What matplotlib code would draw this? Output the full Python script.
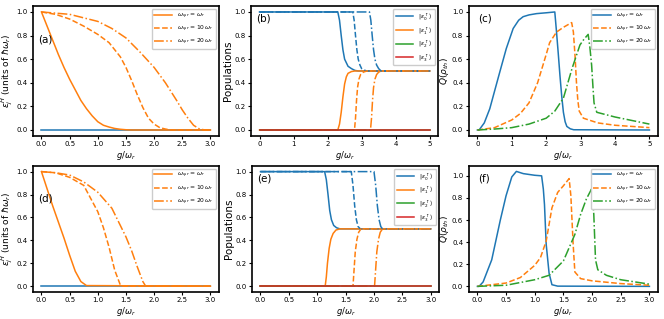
import matplotlib.pyplot as plt

plt.rcParams['font.size'] = 6
plt.rcParams['axes.linewidth'] = 1.2
plt.rcParams['mathtext.fontset'] = 'dejavusans'

# ---------- panel (a): energies, top row ----------
a_x1 = [0, 0.1, 0.2, 0.3, 0.4, 0.5, 0.6, 0.7, 0.8, 0.9, 1.0, 1.1, 1.2, 1.3, 1.4, 1.5, 1.6, 3.0]
a_y1 = [1.0, 0.88, 0.76, 0.64, 0.53, 0.43, 0.34, 0.25, 0.18, 0.12, 0.07, 0.04, 0.025, 0.013, 0.006, 0.002, 0, 0]
a_x10 = [0, 0.25, 0.5, 0.75, 1.0, 1.2, 1.4, 1.5, 1.6, 1.7, 1.8, 1.9, 2.0, 2.1, 2.2, 2.3, 3.0]
a_y10 = [1, 0.98, 0.94, 0.88, 0.81, 0.74, 0.62, 0.53, 0.42, 0.30, 0.19, 0.10, 0.05, 0.02, 0.008, 0.0, 0]
a_x20 = [0, 0.5, 1.0, 1.25, 1.5, 1.75, 2.0, 2.2, 2.4, 2.5, 2.6, 2.7, 2.8, 2.9, 3.0]
a_y20 = [1, 0.98, 0.92, 0.86, 0.78, 0.66, 0.53, 0.40, 0.25, 0.17, 0.10, 0.04, 0.01, 0.0, 0.0]

# ---------- panel (d): energies, bottom row ----------
d_x1 = [0, 0.1, 0.2, 0.3, 0.4, 0.5, 0.6, 0.7, 0.8, 3.0]
d_y1 = [1, 0.85, 0.70, 0.56, 0.42, 0.27, 0.13, 0.04, 0.005, 0]
d_x10 = [0, 0.25, 0.5, 0.75, 1.0, 1.1, 1.2, 1.3, 1.4, 1.45, 3.0]
d_y10 = [1, 0.99, 0.95, 0.88, 0.65, 0.51, 0.34, 0.14, 0.01, 0, 0]
d_x20 = [0, 0.25, 0.5, 0.75, 1.0, 1.25, 1.5, 1.6, 1.7, 1.8, 1.85, 3.0]
d_y20 = [1, 0.99, 0.97, 0.91, 0.82, 0.68, 0.43, 0.31, 0.17, 0.04, 0, 0]

# ---------- panel (b): populations, top row ----------
b_x_up_1 = [0, 2.3, 2.35, 2.4, 2.45, 2.5, 2.6, 2.7, 2.8, 2.9, 5]
b_y_up_1 = [1, 1, 0.93, 0.80, 0.68, 0.60, 0.54, 0.52, 0.505, 0.5, 0.5]
b_x_lo_1 = [0, 2.3, 2.35, 2.4, 2.45, 2.5, 2.55, 2.6, 2.7, 2.8, 5]
b_y_lo_1 = [0, 0, 0.05, 0.15, 0.28, 0.39, 0.45, 0.48, 0.495, 0.5, 0.5]
b_x_up_10 = [0, 2.74, 2.78, 2.82, 2.86, 2.9, 2.95, 3.0, 3.1, 3.15, 5]
b_y_up_10 = [1, 1, 0.93, 0.80, 0.68, 0.60, 0.55, 0.52, 0.505, 0.5, 0.5]
b_x_lo_10 = [0, 2.79, 2.82, 2.85, 2.88, 2.92, 2.97, 3.05, 3.15, 5]
b_y_lo_10 = [0, 0, 0.10, 0.25, 0.36, 0.43, 0.47, 0.49, 0.5, 0.5]
b_x_up_20 = [0, 3.23, 3.27, 3.31, 3.35, 3.39, 3.44, 3.5, 3.57, 5]
b_y_up_20 = [1, 1, 0.93, 0.80, 0.68, 0.60, 0.55, 0.52, 0.5, 0.5]
b_x_lo_20 = [0, 3.26, 3.29, 3.32, 3.35, 3.39, 3.44, 3.5, 3.57, 5]
b_y_lo_20 = [0, 0, 0.10, 0.25, 0.36, 0.43, 0.47, 0.49, 0.5, 0.5]

# ---------- panel (e): populations, bottom row ----------
e_x_up_1 = [0, 1.13, 1.16, 1.19, 1.22, 1.25, 1.29, 1.34, 1.4, 3.0]
e_y_up_1 = [1, 1, 0.93, 0.80, 0.66, 0.58, 0.53, 0.51, 0.5, 0.5]
e_x_lo_1 = [0, 1.14, 1.16, 1.18, 1.21, 1.24, 1.28, 1.33, 1.4, 3.0]
e_y_lo_1 = [0, 0, 0.08, 0.20, 0.33, 0.41, 0.46, 0.49, 0.5, 0.5]
e_x_up_10 = [0, 1.6, 1.63, 1.66, 1.69, 1.72, 1.76, 3.0]
e_y_up_10 = [1, 1, 0.88, 0.70, 0.58, 0.52, 0.5, 0.5]
e_x_lo_10 = [0, 1.63, 1.65, 1.67, 1.7, 1.73, 1.77, 3.0]
e_y_lo_10 = [0, 0, 0.15, 0.30, 0.41, 0.47, 0.5, 0.5]
e_x_up_20 = [0, 2.0, 2.03, 2.06, 2.09, 2.12, 2.15, 3.0]
e_y_up_20 = [1, 1, 0.88, 0.70, 0.58, 0.52, 0.5, 0.5]
e_x_lo_20 = [0, 2.01, 2.03, 2.05, 2.08, 2.11, 2.15, 3.0]
e_y_lo_20 = [0, 0, 0.15, 0.30, 0.41, 0.47, 0.5, 0.5]

# ---------- panel (c): Q, top row ----------
c_x1 = [0, 0.05, 0.2, 0.36, 0.5, 0.65, 0.84, 1.04, 1.2, 1.33, 1.5, 1.72, 2.0, 2.25, 2.3, 2.35, 2.4, 2.45, 2.5, 2.55, 2.6, 2.7, 2.8, 5]
c_y1 = [0, 0, 0.06, 0.18, 0.33, 0.49, 0.69, 0.86, 0.93, 0.96, 0.975, 0.986, 0.993, 1.0, 0.83, 0.65, 0.46, 0.29, 0.15, 0.07, 0.03, 0.01, 0.002, 0]
c_x10 = [0, 0.5, 1.0, 1.25, 1.5, 1.75, 2.0, 2.1, 2.3, 2.5, 2.65, 2.74, 2.79, 2.84, 2.88, 2.92, 2.96, 3.08, 3.5, 4.0, 4.5, 5.0]
c_y10 = [0, 0.02, 0.085, 0.14, 0.23, 0.40, 0.64, 0.74, 0.83, 0.87, 0.895, 0.91, 0.83, 0.62, 0.40, 0.25, 0.16, 0.10, 0.06, 0.04, 0.03, 0.02]
c_x20 = [0, 0.5, 1.0, 1.5, 2.0, 2.25, 2.5, 2.75, 2.98, 3.1, 3.22, 3.27, 3.32, 3.36, 3.39, 3.47, 4.0, 4.5, 5.0]
c_y20 = [0, 0.008, 0.02, 0.05, 0.10, 0.16, 0.27, 0.52, 0.72, 0.77, 0.81, 0.70, 0.55, 0.36, 0.23, 0.15, 0.11, 0.08, 0.05]

# ---------- panel (f): Q, bottom row ----------
f_x1 = [0, 0.03, 0.1, 0.25, 0.4, 0.5, 0.6, 0.68, 0.8, 1.0, 1.12, 1.15, 1.17, 1.2, 1.25, 1.3, 1.4, 3.0]
f_y1 = [0, 0, 0.04, 0.24, 0.60, 0.82, 0.99, 1.04, 1.02, 1.005, 1.0, 0.88, 0.74, 0.38, 0.12, 0.015, 0.002, 0]
f_x10 = [0, 0.5, 0.75, 1.0, 1.1, 1.2, 1.3, 1.4, 1.5, 1.6, 1.63, 1.65, 1.67, 1.7, 1.8, 2.0, 2.5, 3.0]
f_y10 = [0, 0.03, 0.08, 0.19, 0.26, 0.41, 0.71, 0.85, 0.91, 0.975, 0.82, 0.60, 0.38, 0.13, 0.07, 0.05, 0.025, 0.01]
f_x20 = [0, 0.5, 1.0, 1.25, 1.5, 1.7, 1.8, 1.9, 1.99, 2.01, 2.03, 2.06, 2.1, 2.25, 2.5, 2.75, 3.0]
f_y20 = [0, 0.01, 0.06, 0.10, 0.23, 0.47, 0.65, 0.79, 0.88, 0.80, 0.65, 0.24, 0.15, 0.10, 0.06, 0.04, 0.02]

zero_x3 = [0, 3.0]
zero_y = [0, 0]

leg_q = [r'$\omega_{q,r} = \omega_r$', r'$\omega_{q,r} = 10\,\omega_r$', r'$\omega_{q,r} = 20\,\omega_r$']
leg_pop = [r'$|\varepsilon_0^{\uparrow}\rangle$', r'$|\varepsilon_1^{\uparrow}\rangle$',
           r'$|\varepsilon_2^{\uparrow}\rangle$', r'$|\varepsilon_3^{\uparrow}\rangle$']
styles = ['-', '--', '-.']

fig = plt.figure(figsize=(6.64, 3.19), dpi=100)
ax_a = fig.add_axes([0.0497, 0.574, 0.280, 0.407])
ax_b = fig.add_axes([0.378, 0.574, 0.282, 0.407])
ax_c = fig.add_axes([0.706, 0.574, 0.285, 0.407])
ax_d = fig.add_axes([0.0497, 0.085, 0.280, 0.395])
ax_e = fig.add_axes([0.3795, 0.085, 0.282, 0.395])
ax_f = fig.add_axes([0.706, 0.085, 0.285, 0.395])

lw = 1.1
xl_fs = 6
leg_fs = 4.3


def energy_panel(ax, curves, tag):
    ax.plot(zero_x3, zero_y, color='C0', lw=lw)
    for (x, y), ls, lab in zip(curves, styles, leg_q):
        ax.plot(x, y, color='C1', ls=ls, lw=lw, label=lab)
    ax.set_xlim(-0.15, 3.15)
    ax.set_ylim(-0.05, 1.05)
    ax.set_xticks([0, 0.5, 1.0, 1.5, 2.0, 2.5, 3.0])
    ax.set_xlabel(r'$g/\omega_r$', fontsize=xl_fs, labelpad=1)
    ax.set_ylabel(r'$\varepsilon_j^H$ (units of $\hbar\omega_r$)', fontsize=6.5, labelpad=1)
    ax.legend(loc='upper right', fontsize=leg_fs, handlelength=3, framealpha=1)
    ax.text(0.03, 0.72, tag, transform=ax.transAxes, fontsize=7.5)


def pop_panel(ax, ups, los, xmax, ticks, tag):
    zx = [0, xmax]
    for i, ((xu, yu), (xl, yl), ls) in enumerate(zip(ups, los, styles)):
        ax.plot(xu, yu, color='C0', ls=ls, lw=lw, label=leg_pop[0] if i == 0 else None)
        ax.plot(xl, yl, color='C1', ls=ls, lw=lw, label=leg_pop[1] if i == 0 else None)
    ax.plot(zx, zero_y, color='C2', lw=lw, label=leg_pop[2])
    ax.plot(zx, zero_y, color='C3', lw=lw, label=leg_pop[3])
    ax.set_xlim(-0.05 * xmax, 1.05 * xmax)
    ax.set_ylim(-0.05, 1.05)
    ax.set_xticks(ticks)
    ax.set_xlabel(r'$g/\omega_r$', fontsize=xl_fs, labelpad=1)
    ax.set_ylabel('Populations', fontsize=7.5, labelpad=1)
    ax.legend(loc='upper right', fontsize=leg_fs, handlelength=3, framealpha=1)
    ax.text(0.03, 0.88, tag, transform=ax.transAxes, fontsize=7.5)


def q_panel(ax, curves, xmax, ticks, ylim, tag):
    for (x, y), ls, c, lab in zip(curves, styles, ['C0', 'C1', 'C2'], leg_q):
        ax.plot(x, y, color=c, ls=ls, lw=lw, label=lab)
    ax.set_xlim(-0.05 * xmax, 1.05 * xmax)
    ax.set_ylim(*ylim)
    ax.set_xticks(ticks)
    ax.set_xlabel(r'$g/\omega_r$', fontsize=xl_fs, labelpad=1)
    ax.set_ylabel(r'$Q(\rho_{th})$', fontsize=6.5, labelpad=1)
    ax.legend(loc='upper right', fontsize=leg_fs, handlelength=3, framealpha=1)
    ax.text(0.05, 0.88, tag, transform=ax.transAxes, fontsize=7.5)


energy_panel(ax_a, [(a_x1, a_y1), (a_x10, a_y10), (a_x20, a_y20)], '(a)')
energy_panel(ax_d, [(d_x1, d_y1), (d_x10, d_y10), (d_x20, d_y20)], '(d)')

pop_panel(ax_b, [(b_x_up_1, b_y_up_1), (b_x_up_10, b_y_up_10), (b_x_up_20, b_y_up_20)],
          [(b_x_lo_1, b_y_lo_1), (b_x_lo_10, b_y_lo_10), (b_x_lo_20, b_y_lo_20)],
          5, [0, 1, 2, 3, 4, 5], '(b)')
pop_panel(ax_e, [(e_x_up_1, e_y_up_1), (e_x_up_10, e_y_up_10), (e_x_up_20, e_y_up_20)],
          [(e_x_lo_1, e_y_lo_1), (e_x_lo_10, e_y_lo_10), (e_x_lo_20, e_y_lo_20)],
          3, [0, 0.5, 1.0, 1.5, 2.0, 2.5, 3.0], '(e)')

q_panel(ax_c, [(c_x1, c_y1), (c_x10, c_y10), (c_x20, c_y20)], 5, [0, 1, 2, 3, 4, 5], (-0.05, 1.05), '(c)')
q_panel(ax_f, [(f_x1, f_y1), (f_x10, f_y10), (f_x20, f_y20)], 3, [0, 0.5, 1.0, 1.5, 2.0, 2.5, 3.0], (-0.05, 1.09), '(f)')

for ax in [ax_a, ax_b, ax_c, ax_d, ax_e, ax_f]:
    ax.tick_params(labelsize=5, length=2.5, pad=1.5)

fig.savefig('out.png', dpi=100)
